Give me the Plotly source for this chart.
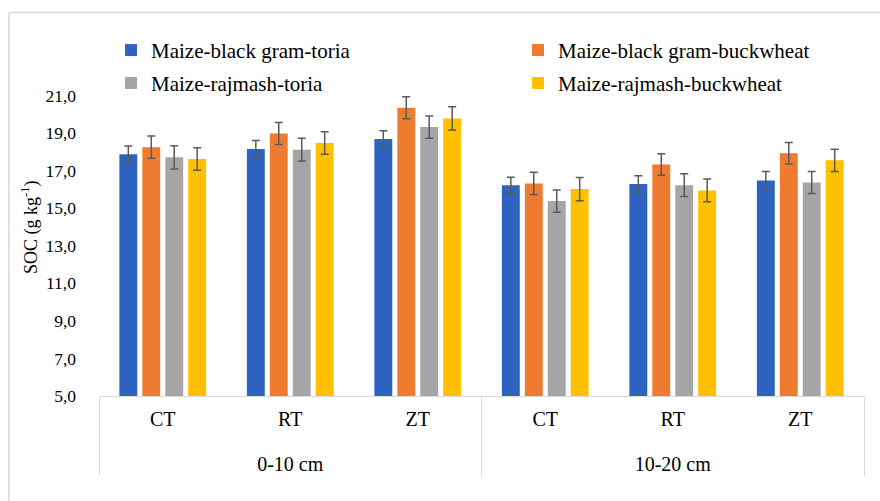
import plotly.graph_objects as go

# Soil organic carbon by depth, tillage and cropping system
depths = ["0-10 cm", "0-10 cm", "0-10 cm", "10-20 cm", "10-20 cm", "10-20 cm"]
tillage = ["CT", "RT", "ZT", "CT", "RT", "ZT"]

series_names = [
    "Maize-black gram-toria",
    "Maize-black gram-buckwheat",
    "Maize-rajmash-toria",
    "Maize-rajmash-buckwheat",
]
soc_mbg_toria = [17.87, 18.15, 18.68, 16.23, 16.29, 16.48]
soc_mbg_buckwheat = [18.25, 18.98, 20.35, 16.32, 17.33, 17.93]
soc_mr_toria = [17.71, 18.12, 19.32, 15.38, 16.23, 16.37]
soc_mr_buckwheat = [17.62, 18.47, 19.78, 16.02, 15.95, 17.55]

err_mbg_toria = [0.45, 0.46, 0.45, 0.42, 0.44, 0.47]
err_mbg_buckwheat = [0.59, 0.58, 0.59, 0.59, 0.57, 0.57]
err_mr_toria = [0.62, 0.60, 0.59, 0.59, 0.60, 0.59]
err_mr_buckwheat = [0.60, 0.60, 0.62, 0.62, 0.61, 0.59]

y_ticks = [5, 7, 9, 11, 13, 15, 17, 19, 21]

values = [soc_mbg_toria, soc_mbg_buckwheat, soc_mr_toria, soc_mr_buckwheat]
errors = [err_mbg_toria, err_mbg_buckwheat, err_mr_toria, err_mr_buckwheat]
colors = ["#2f63c2", "#ee7b30", "#a5a5a5", "#ffc000"]

W, H = 880, 501
M_L, M_R, M_T, M_B = 99, 16, 57.6, 105
plot_w = W - M_L - M_R
plot_h = H - M_T - M_B


def px_x(x):
    return (x - M_L) / plot_w


def px_y(y):
    return (H - M_B - y) / plot_h


serif = "Liberation Serif"

# the depth row sits one line lower than the tillage row
depth_labels = ["<br>" + d for d in depths]

# one legend box per entry, laid out as a 2 x 2 grid above the bars
legend_ids = ["legend", "legend2", "legend3", "legend4"]
legend_pos = [(111, 50), (518, 50), (111, 83), (518, 83)]

fig = go.Figure()
for name, vals, errs, col, lg in zip(series_names, values, errors, colors, legend_ids):
    fig.add_trace(go.Bar(
        name=name,
        x=[depth_labels, tillage],
        y=vals,
        marker=dict(color=col, line=dict(width=0)),
        error_y=dict(type="data", array=errs, visible=True,
                     color="#5a5a5a", thickness=1.5, width=4),
        legend=lg,
    ))

legend_layout = {}
for lg, (lx, ly) in zip(legend_ids, legend_pos):
    legend_layout[lg] = dict(
        orientation="h", x=px_x(lx), y=px_y(ly),
        xanchor="left", yanchor="middle",
        font=dict(family=serif, size=21, color="#000000"),
        bgcolor="rgba(0,0,0,0)",
    )

fig.update_layout(
    width=W, height=H,
    margin=dict(l=M_L, r=M_R, t=M_T, b=M_B),
    paper_bgcolor="white", plot_bgcolor="white",
    font=dict(family=serif, color="#000000"),
    separators=",.",
    barmode="group", bargap=0.28, bargroupgap=0.22,
    xaxis=dict(type="multicategory", showline=True, linecolor="#d9d9d9",
               linewidth=1, showgrid=False, ticks="",
               ticklabelstandoff=5,
               showdividers=True, dividercolor="#d9d9d9", dividerwidth=1,
               tickfont=dict(family=serif, size=20, color="#000000")),
    yaxis=dict(range=[5, 23], tickvals=y_ticks, tickformat=".1f",
               showgrid=False, showline=False, zeroline=False, ticks="",
               ticklabelstandoff=22,
               tickfont=dict(family=serif, size=17.5, color="#000000")),
    showlegend=True,
    **legend_layout,
)

fig.add_annotation(
    text="SOC (g kg<sup>-1</sup>)", textangle=-90,
    xref="paper", yref="paper", x=0, y=0.5, xshift=-69,
    xanchor="center", yanchor="middle", showarrow=False,
    font=dict(family=serif, size=18, color="#000000"),
)

# chart frame along the top and left edges
fig.add_shape(type="line", xref="paper", yref="paper",
              x0=px_x(9), x1=px_x(W + 5), y0=px_y(12), y1=px_y(12),
              line=dict(color="#d6d6d6", width=1.5))
fig.add_shape(type="line", xref="paper", yref="paper",
              x0=px_x(9), x1=px_x(9), y0=px_y(12), y1=px_y(H + 5),
              line=dict(color="#d6d6d6", width=1.5))

fig.write_html("out.html")
